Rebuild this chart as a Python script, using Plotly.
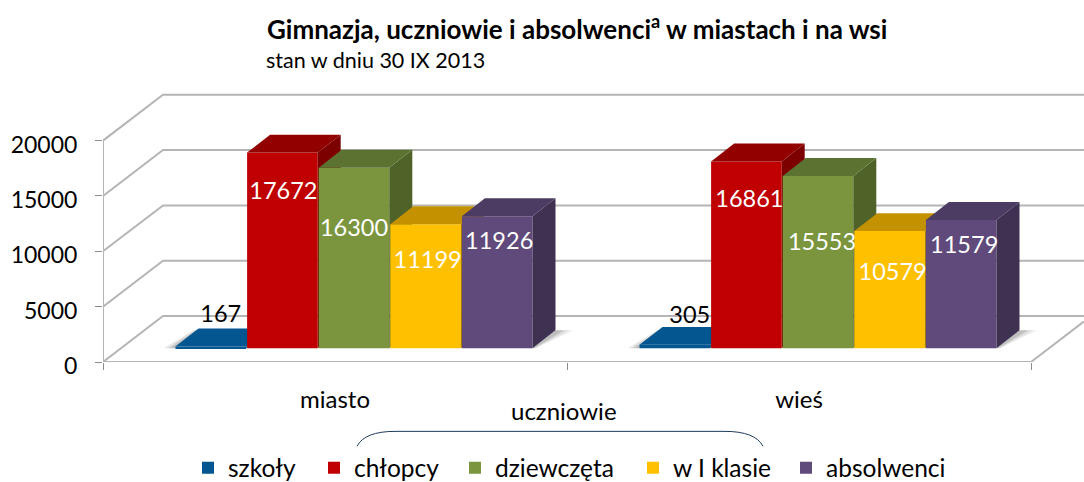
import plotly.graph_objects as go

# ---- data ----
categories = ["miasto", "wieś"]
series_names = ["szkoły", "chłopcy", "dziewczęta", "w I klasie", "absolwenci"]
szkoly = [167, 305]
chlopcy = [17672, 16861]
dziewczeta = [16300, 15553]
w_i_klasie = [11199, 10579]
absolwenci = [11926, 11579]
y_ticks = [0, 5000, 10000, 15000, 20000]

# ---- styling ----
front_colors = ["#03568F", "#C00000", "#7A953D", "#FFC000", "#604A7B"]
top_colors = ["#03568F", "#930000", "#5C7230", "#C49200", "#4C3B62"]
side_colors = ["#03456F", "#7C0000", "#4F6228", "#A87E00", "#3F3151"]
label_colors = ["#000000", "#FFFFFF", "#FFFFFF", "#FFFFFF", "#FFFFFF"]
label_drop_px = [[-30, -28], [41, 40], [62, 68], [37.5, 43], [26.6, 26.7]]
label_shift_px = [[10, 15], [1, 3], [0, 4], [2, 3], [2, 3]]
legend_text_px = [228, 354, 495, 673, 826]
FONT = "Lato"
GRID = "#B5B5B5"

W, H = 1084, 482
LEFT, FLOOR_PX, TOP_PX = 103, 362.5, 88
PX_PER_CAT = 464
PX_PER_VAL = 221.8 / 20000
xr = [0, (W - LEFT) / PX_PER_CAT]
yr = [0, (FLOOR_PX - TOP_PX) / PX_PER_VAL]


def xpx(p):
    return p / PX_PER_CAT


def ypx(p):
    return p / PX_PER_VAL


WALL_DX, WALL_DY = xpx(60), ypx(46)
BASE_DX, BASE_DY = xpx(19), ypx(13.8)
BAR_DX, BAR_DY = xpx(23), ypx(18)
BAR_STEP = xpx(71.6)
BAR_W = xpx(70.6)

fig = go.Figure()

# walls and floor
for v in y_ticks:
    fig.add_trace(go.Scatter(
        x=[0, WALL_DX, xr[1]], y=[v, v + WALL_DY, v + WALL_DY], mode="lines",
        line=dict(color=GRID, width=2), showlegend=False, hoverinfo="skip",
        cliponaxis=False, zorder=0))
fig.add_trace(go.Scatter(
    x=[0, 0, 2, 2 + WALL_DX * 0.88], y=[y_ticks[-1], 0, 0, WALL_DY * 0.88], mode="lines",
    line=dict(color=GRID, width=2), showlegend=False, hoverinfo="skip",
    cliponaxis=False, zorder=0))

series = [szkoly, chlopcy, dziewczeta, w_i_klasie, absolwenci]


def center(cat, j):
    return cat + 0.5 + BASE_DX + (j - 2) * BAR_STEP


# soft floor shadows
for c in range(2):
    lx = center(c, 0) - BAR_W / 2
    rx = center(c, 4) + BAR_W / 2
    for a, w in [(0.10, 36), (0.14, 26), (0.22, 16)]:
        fig.add_trace(go.Scatter(
            x=[lx - xpx(w * 0.35), lx + BAR_DX - xpx(w * 0.15), lx + BAR_DX, lx],
            y=[BASE_DY, BASE_DY + BAR_DY, BASE_DY + BAR_DY, BASE_DY],
            mode="lines", fill="toself", fillcolor=f"rgba(90,90,90,{a})",
            line=dict(width=0), showlegend=False, hoverinfo="skip", zorder=0))
        fig.add_trace(go.Scatter(
            x=[rx, rx + BAR_DX, rx + BAR_DX + xpx(w * 0.5), rx + xpx(w * 0.1)],
            y=[BASE_DY, BASE_DY + BAR_DY, BASE_DY + BAR_DY, BASE_DY],
            mode="lines", fill="toself", fillcolor=f"rgba(90,90,90,{a})",
            line=dict(width=0), showlegend=False, hoverinfo="skip", zorder=0))

# bars, painted left to right
for j, vals in enumerate(series):
    z = j + 1
    xs = [center(c, j) for c in range(2)]
    for xc, v in zip(xs, vals):
        l, r = xc - BAR_W / 2, xc + BAR_W / 2
        b, t = BASE_DY, BASE_DY + v
        fig.add_trace(go.Scatter(
            x=[r, r + BAR_DX, r + BAR_DX, r], y=[t, t + BAR_DY, b + BAR_DY, b],
            mode="lines", fill="toself", fillcolor=side_colors[j], line=dict(width=0),
            showlegend=False, hoverinfo="skip", zorder=z))
        fig.add_trace(go.Scatter(
            x=[l, l + BAR_DX, r + BAR_DX, r], y=[t, t + BAR_DY, t + BAR_DY, t],
            mode="lines", fill="toself", fillcolor=top_colors[j], line=dict(width=0),
            showlegend=False, hoverinfo="skip", zorder=z))
    fig.add_trace(go.Bar(
        x=xs, y=vals, base=[BASE_DY, BASE_DY], width=BAR_W, name=series_names[j],
        legend="legend" if j == 0 else f"legend{j + 1}",
        marker=dict(color=front_colors[j], line=dict(width=0)), zorder=z))

# value labels
for j, vals in enumerate(series):
    xs = [center(c, j) + xpx(s) for c, s in zip(range(2), label_shift_px[j])]
    ys = [BASE_DY + v - ypx(d) for v, d in zip(vals, label_drop_px[j])]
    fig.add_trace(go.Scatter(
        x=xs, y=ys, mode="text", text=[str(v) for v in vals], textposition="middle center",
        textfont=dict(family=FONT, size=23.5, color=label_colors[j]),
        showlegend=False, hoverinfo="skip", cliponaxis=False, zorder=10))


def px(x):
    return (x - LEFT) / (W - LEFT)


def py(y):
    return (FLOOR_PX - y) / (FLOOR_PX - TOP_PX)


legends = {}
for j, tx in enumerate(legend_text_px):
    key = "legend" if j == 0 else f"legend{j + 1}"
    legends[key] = dict(x=px(tx - 40), xanchor="left", y=py(446), yanchor="top",
                        font=dict(family=FONT, size=24.5), bgcolor="rgba(0,0,0,0)")

fig.update_layout(
    width=W, height=H, autosize=False, barmode="overlay",
    paper_bgcolor="white", plot_bgcolor="white",
    margin=dict(l=LEFT, r=0, t=TOP_PX, b=H - FLOOR_PX, pad=0, autoexpand=False),
    font=dict(family=FONT, size=23, color="#000000"),
    xaxis=dict(range=xr, tickmode="array", tickvals=[0.5, 1.5], ticktext=categories,
               ticks="", showgrid=False, zeroline=False, showline=False,
               ticklabelstandoff=21, tickfont=dict(family=FONT, size=24),
               minor=dict(tickmode="array", tickvals=[0, 1, 2], ticks="outside", ticklen=7,
                          tickcolor="#8C8C8C", tickwidth=1, showgrid=False)),
    yaxis=dict(range=yr, tickmode="array", tickvals=y_ticks, ticktext=[str(v) for v in y_ticks],
               ticks="outside", ticklen=7, tickcolor="#8C8C8C", tickwidth=1, showgrid=False,
               zeroline=False, showline=False, ticklabelshift=4, ticklabelstandoff=13,
               tickfont=dict(family=FONT, size=23)),
    showlegend=True,
    annotations=[
        dict(text="<b>Gimnazja, uczniowie i absolwenci<sup>a</sup> w miastach i na wsi</b>",
             xref="paper", yref="paper", x=px(265), y=py(27), xanchor="left", yanchor="middle",
             showarrow=False, font=dict(family=FONT, size=26, color="#000000")),
        dict(text="stan w dniu 30 IX 2013", xref="paper", yref="paper", x=px(264), y=py(60),
             xanchor="left", yanchor="middle", showarrow=False,
             font=dict(family=FONT, size=21.5, color="#000000")),
        dict(text="uczniowie", xref="paper", yref="paper", x=px(564), y=py(411),
             xanchor="center", yanchor="middle", showarrow=False,
             font=dict(family=FONT, size=24, color="#000000")),
    ],
    shapes=[dict(
        type="path", xref="paper", yref="paper", line=dict(color="#1F3A5F", width=1),
        path=(f"M {px(357)},{py(447)} C {px(362)},{py(437)} {px(375)},{py(432)} {px(395)},{py(432)} "
              f"L {px(725)},{py(432)} C {px(745)},{py(432)} {px(758)},{py(437)} {px(763)},{py(447)}"),
    )],
    **legends,
)

fig.write_html("out.html", config={"displayModeBar": False},
               post_script="document.body.style.margin='0';document.documentElement.style.overflow='hidden';")
